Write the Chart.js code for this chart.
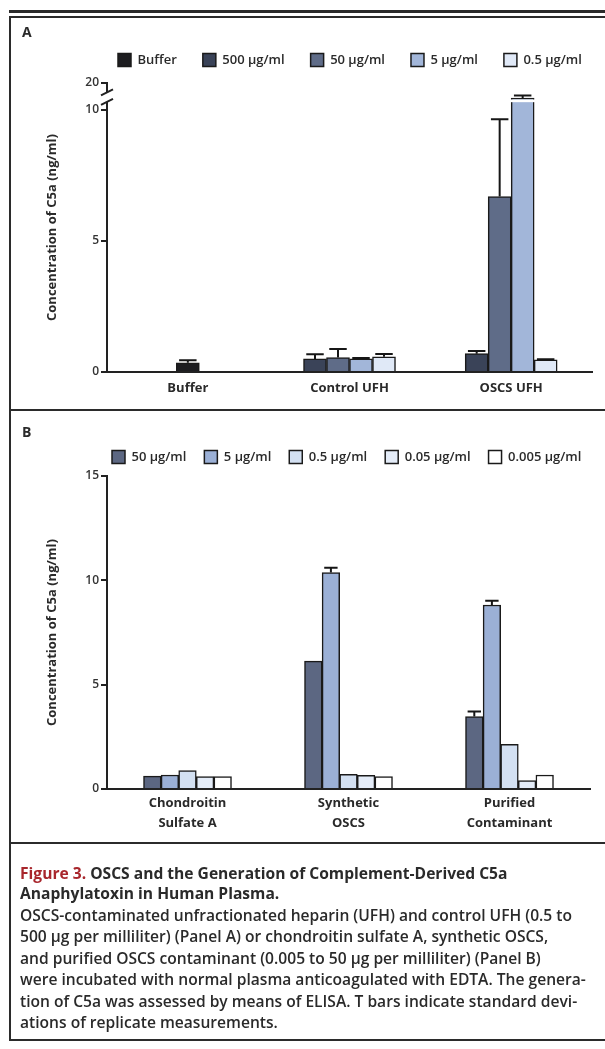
<!DOCTYPE html>
<html>
<head>
<meta charset="utf-8">
<script src="https://cdn.jsdelivr.net/npm/chart.js@4.4.1/dist/chart.umd.min.js"></script>
<style>
  body { margin: 0; background: #fff; width: 605px; height: 1049px; position: relative; overflow: hidden; font-family: 'Open Sans', sans-serif; color: #2a2a2a; }
  .ln { position: absolute; background: #2b2b2b; }
  canvas { position: absolute; left: 0; }
  .tag { position: absolute; left: 22px; font: 700 14px/16px 'Open Sans', sans-serif; }
  .cap { position: absolute; left: 20px; top: 863px; white-space: nowrap; }
  .cap p { margin: 0; }
  .cap .t { font: 700 15.6px/20px 'Open Sans', sans-serif; color: #2a2a2a; }
  .cap .t span { color: #a8262c; }
  .cap .b { font: 600 15.6px/21.4px 'Open Sans', sans-serif; margin-top: 2px; color: #2a2a2a; }
</style>
</head>
<body>
<canvas id="chartA" width="605" height="393" style="top:17px"></canvas>
<canvas id="chartB" width="605" height="430" style="top:410px"></canvas>

<div class="ln" style="left:9px;top:10px;width:596px;height:3px"></div>
<div class="ln" style="left:9px;top:16px;width:596px;height:2px"></div>
<div class="ln" style="left:9px;top:16px;width:2px;height:1025px"></div>
<div class="ln" style="left:9px;top:409px;width:596px;height:2px"></div>
<div class="ln" style="left:9px;top:842px;width:596px;height:2px"></div>
<div class="ln" style="left:9px;top:1039px;width:596px;height:2px"></div>
<div class="tag" style="top:24px">A</div>
<div class="tag" style="top:424px">B</div>

<div class="cap">
  <p class="t"><span>Figure 3.</span> OSCS and the Generation of Complement-Derived C5a<br>Anaphylatoxin in Human Plasma.</p>
  <p class="b">OSCS-contaminated unfractionated heparin (UFH) and control UFH (0.5 to<br>500 μg per milliliter) (Panel A) or chondroitin sulfate A, synthetic OSCS,<br>and purified OSCS contaminant (0.005 to 50 μg per milliliter) (Panel B)<br>were incubated with normal plasma anticoagulated with EDTA. The genera-<br>tion of C5a was assessed by means of ELISA. T bars indicate standard devi-<br>ations of replicate measurements.</p>
</div>

<script>
// Panel A data (ng/ml), null = no bar in that group
const groupsA = ['Buffer', 'Control UFH', 'OSCS UFH'];
const seriesA = ['Buffer', '500 μg/ml', '50 μg/ml', '5 μg/ml', '0.5 μg/ml'];
const bufferA = [0.35, null, null];
const c500A = [null, 0.5, 0.7];
const c50A = [null, 0.55, 6.7];
const c5A = [null, 0.5, 14.4];
const c05A = [null, 0.58, 0.46];
const sdBufferA = [0.1, null, null];
const sd500A = [null, 0.18, 0.1];
const sd50A = [null, 0.33, 2.95];
const sd5A = [null, 0.03, 1.0];
const sd05A = [null, 0.11, 0.03];
const ticksA = [0, 5, 10, 20];

// Panel B data (ng/ml)
const groupsB = [['Chondroitin', 'Sulfate A'], ['Synthetic', 'OSCS'], ['Purified', 'Contaminant']];
const seriesB = ['50 μg/ml', '5 μg/ml', '0.5 μg/ml', '0.05 μg/ml', '0.005 μg/ml'];
const c50B = [0.62, 6.13, 3.47];
const c5B = [0.67, 10.37, 8.82];
const c05B = [0.88, 0.7, 2.14];
const c005B = [0.59, 0.65, 0.4];
const c0005B = [0.6, 0.59, 0.67];
const sd50B = [0, 0, 0.25];
const sd5B = [0, 0.23, 0.2];
const sd05B = [0, 0, 0];
const sd005B = [0, 0, 0];
const sd0005B = [0, 0, 0];
const ticksB = [0, 5, 10, 15];

const colorsA = ['#1d1d20', '#3a4358', '#5f6c88', '#a2b6d9', '#e0e9f7'];
const colorsB = ['#5c6782', '#9bb0d6', '#d3e0f2', '#e4ecf8', '#ffffff'];

Chart.defaults.font.family = "'Open Sans', sans-serif";
Chart.defaults.color = '#2a2a2a';

// y axis with a break above 10 (10..20 squeezed into the top strip)
const BREAK_AT = 10, BREAK_TOP = 20, BREAK_SHARE = 262 / 289;
class BrokenLinearScale extends Chart.LinearScale {
  getPixelForValue(v) {
    if (v === null || v === undefined || isNaN(v)) return NaN;
    const d = v <= BREAK_AT ? v / BREAK_AT * BREAK_SHARE
      : BREAK_SHARE + (v - BREAK_AT) / (BREAK_TOP - BREAK_AT) * (1 - BREAK_SHARE);
    return this.getPixelForDecimal(d);
  }
  getValueForPixel(p) {
    const d = this.getDecimalForPixel(p);
    return d <= BREAK_SHARE ? d / BREAK_SHARE * BREAK_AT
      : BREAK_AT + (d - BREAK_SHARE) / (1 - BREAK_SHARE) * (BREAK_TOP - BREAK_AT);
  }
}
BrokenLinearScale.id = 'brokenLinear';
BrokenLinearScale.defaults = {};
Chart.register(BrokenLinearScale);

function makeSets(names, values, errs, colors) {
  return names.map((n, i) => ({
    label: n, data: values[i], errors: errs[i],
    backgroundColor: colors[i], borderColor: '#1a1a1a', borderWidth: 1.5
  }));
}

// fixed legend height + place the legend row
const legendPlace = {
  id: 'legendPlace',
  beforeInit(chart) {
    const legend = chart.legend;
    const fit = legend.fit;
    legend.fit = function () {
      fit.call(this);
      this.height = chart.options.plugins.legendPlace.height;
    };
  },
  afterLayout(chart, args, opts) {
    const lg = chart.legend;
    const pad = lg.options.labels.padding;
    lg.left = opts.x - pad;
    lg.right = chart.width + 400;
    lg.top = opts.y - pad - 6.5;
  }
};

// T bars (upper standard deviation only)
const errorBars = {
  id: 'errorBars',
  afterDatasetsDraw(chart) {
    const ctx = chart.ctx, y = chart.scales.y;
    chart.data.datasets.forEach((ds, di) => {
      const meta = chart.getDatasetMeta(di);
      meta.data.forEach((bar, i) => {
        const v = ds.data[i], e = ds.errors ? ds.errors[i] : 0;
        if (v == null || !e) return;
        const top = y.getPixelForValue(v + e);
        const half = bar.width * 0.38;
        ctx.save();
        ctx.strokeStyle = '#161616';
        ctx.lineWidth = 2;
        ctx.beginPath();
        ctx.moveTo(bar.x, bar.y);
        ctx.lineTo(bar.x, top);
        ctx.moveTo(bar.x - half, top);
        ctx.lineTo(bar.x + half, top);
        ctx.stroke();
        ctx.restore();
      });
    });
  }
};

// white gap through the bar and "//" on the axis at the break
const axisBreak = {
  id: 'axisBreak',
  afterDatasetsDraw(chart, args, opts) {
    if (!opts.barGap) return;
    const y = chart.scales.y, area = chart.chartArea, ctx = chart.ctx;
    ctx.save();
    ctx.fillStyle = '#fff';
    const b1 = y.getPixelForValue(opts.barGap[1]), b0 = y.getPixelForValue(opts.barGap[0]);
    ctx.fillRect(area.left + 2, b1, area.width - 2, b0 - b1);
    const a1 = y.getPixelForValue(opts.axisGap[1]), a0 = y.getPixelForValue(opts.axisGap[0]);
    const x = area.left;
    ctx.fillRect(x - 3, a1, 6, a0 - a1);
    ctx.strokeStyle = '#222';
    ctx.lineWidth = 2;
    ctx.beginPath();
    [a0, a1].forEach(p => { ctx.moveTo(x - 6, p + 3); ctx.lineTo(x + 6, p - 3); });
    ctx.stroke();
    ctx.restore();
  }
};

function yAxis(extra) {
  return Object.assign({
    min: 0,
    afterFit: s => { s.width = 107; },
    grid: { display: true, drawOnChartArea: false, drawTicks: true, tickLength: 6, color: '#222', lineWidth: 2 },
    border: { display: true, color: '#222', width: 2 },
    ticks: { font: { size: 12, weight: '600' }, color: '#333', padding: 2 },
    title: { display: true, text: 'Concentration of C5a (ng/ml)', font: { size: 13, weight: '700' }, color: '#2a2a2a', padding: { top: 44, bottom: 0 } }
  }, extra);
}

function xAxis(h, pad, lh) {
  return {
    afterFit: s => { s.height = h; },
    grid: { display: false, drawTicks: false },
    border: { display: true, color: '#222', width: 2 },
    ticks: { font: { size: 13, weight: '700', lineHeight: lh }, color: '#2a2a2a', padding: pad, maxRotation: 0 }
  };
}

function legendOpts(pad) {
  return {
    position: 'top', align: 'start',
    labels: { boxWidth: 13, boxHeight: 13, padding: pad, font: { size: 13, weight: '600' }, color: '#2a2a2a' }
  };
}

new Chart(document.getElementById('chartA'), {
  type: 'bar',
  data: {
    labels: groupsA,
    datasets: makeSets(seriesA, [bufferA, c500A, c50A, c5A, c05A],
      [sdBufferA, sd500A, sd50A, sd5A, sd05A], colorsA)
  },
  options: {
    responsive: false, animation: false,
    layout: { padding: { left: 0, right: 13, top: 0, bottom: 0 } },
    datasets: { bar: { skipNull: true, barThickness: 23 } },
    scales: {
      x: xAxis(38, 8, 1.2),
      y: yAxis({ type: 'brokenLinear', max: 20, afterBuildTicks: s => { s.ticks = ticksA.map(v => ({ value: v })); } })
    },
    plugins: {
      legend: legendOpts(26),
      legendPlace: { x: 118, y: 43, height: 66 },
      axisBreak: { barGap: [12.9, 13.9], axisGap: [13, 16.5] },
      tooltip: { enabled: false }
    }
  },
  plugins: [legendPlace, errorBars, axisBreak]
});

new Chart(document.getElementById('chartB'), {
  type: 'bar',
  data: {
    labels: groupsB,
    datasets: makeSets(seriesB, [c50B, c5B, c05B, c005B, c0005B],
      [sd50B, sd5B, sd05B, sd005B, sd0005B], colorsB)
  },
  options: {
    responsive: false, animation: false,
    layout: { padding: { left: 0, right: 15, top: 0, bottom: 0 } },
    datasets: { bar: { barThickness: 17.6 } },
    scales: {
      x: xAxis(51, 5, 1.5),
      y: yAxis({ type: 'linear', max: 15, afterBuildTicks: s => { s.ticks = ticksB.map(v => ({ value: v })); } })
    },
    plugins: {
      legend: legendOpts(18),
      legendPlace: { x: 112, y: 47, height: 66 },
      axisBreak: {},
      tooltip: { enabled: false }
    }
  },
  plugins: [legendPlace, errorBars, axisBreak]
});
</script>
</body>
</html>
